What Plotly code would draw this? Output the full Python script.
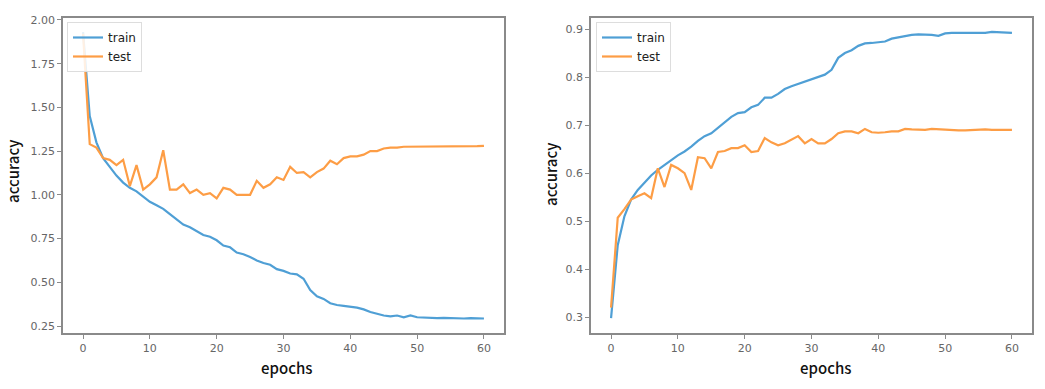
import plotly.graph_objects as go

W, H = 1045, 389

epochs = list(range(61))

left_train = [1.93, 1.45, 1.30, 1.21, 1.16, 1.11, 1.07, 1.04, 1.02, 0.99,
              0.96, 0.94, 0.92, 0.89, 0.86, 0.83, 0.815, 0.79, 0.77, 0.76,
              0.74, 0.71, 0.70, 0.67, 0.66, 0.645, 0.625, 0.61, 0.60, 0.575,
              0.565, 0.55, 0.545, 0.52, 0.455, 0.42, 0.405, 0.38, 0.37, 0.365,
              0.36, 0.355, 0.345, 0.33, 0.32, 0.31, 0.305, 0.31, 0.30, 0.31,
              0.30, 0.297, 0.295, 0.295, 0.297, 0.295, 0.297, 0.293, 0.295, 0.293,
              0.293]
left_test = [1.92, 1.29, 1.27, 1.21, 1.20, 1.17, 1.20, 1.05, 1.17, 1.03,
             1.06, 1.10, 1.255, 1.03, 1.03, 1.06, 1.01, 1.03, 1.00, 1.01,
             0.98, 1.04, 1.03, 1.00, 1.00, 1.00, 1.08, 1.04, 1.06, 1.10,
             1.085, 1.16, 1.125, 1.13, 1.10, 1.13, 1.15, 1.195, 1.175, 1.21,
             1.22, 1.22, 1.23, 1.25, 1.25, 1.265, 1.27, 1.27, 1.275, 1.275,
             1.275, 1.275, 1.275, 1.275, 1.278, 1.278, 1.278, 1.278, 1.276, 1.278,
             1.28]

right_train = [0.298, 0.45, 0.51, 0.545, 0.565, 0.58, 0.595, 0.607, 0.617, 0.627,
               0.637, 0.645, 0.655, 0.667, 0.677, 0.683, 0.695, 0.705, 0.717, 0.725,
               0.727, 0.737, 0.742, 0.757, 0.757, 0.765, 0.775, 0.781, 0.786, 0.791,
               0.795, 0.80, 0.805, 0.815, 0.84, 0.85, 0.856, 0.865, 0.87, 0.871,
               0.872, 0.874, 0.88, 0.883, 0.886, 0.888, 0.889, 0.889, 0.888, 0.886,
               0.891, 0.892, 0.892, 0.893, 0.892, 0.893, 0.892, 0.894, 0.893, 0.893,
               0.892]
right_test = [0.32, 0.507, 0.525, 0.545, 0.552, 0.558, 0.548, 0.61, 0.571, 0.617,
              0.61, 0.60, 0.565, 0.633, 0.631, 0.61, 0.644, 0.646, 0.652, 0.652,
              0.658, 0.644, 0.646, 0.673, 0.664, 0.658, 0.662, 0.670, 0.677, 0.662,
              0.671, 0.662, 0.662, 0.671, 0.683, 0.687, 0.687, 0.683, 0.692, 0.685,
              0.684, 0.685, 0.687, 0.687, 0.692, 0.691, 0.691, 0.690, 0.692, 0.691,
              0.690, 0.690, 0.689, 0.689, 0.690, 0.690, 0.691, 0.690, 0.690, 0.690,
              0.690]

x_ticks = [0, 10, 20, 30, 40, 50, 60]
left_yticks = [0.25, 0.50, 0.75, 1.00, 1.25, 1.50, 1.75, 2.00]
right_yticks = [0.3, 0.4, 0.5, 0.6, 0.7, 0.8, 0.9]

BLUE = "#4f9fd5"
ORANGE = "#fd9d45"
AX = "#8a8a8a"
TICKFONT = dict(family="DejaVu Sans", size=11, color="#666666")

fig = go.Figure()
fig.add_trace(go.Scatter(x=epochs, y=left_train, mode="lines", name="train",
                         line=dict(color=BLUE, width=2.2), xaxis="x", yaxis="y",
                         legend="legend"))
fig.add_trace(go.Scatter(x=epochs, y=left_test, mode="lines", name="test",
                         line=dict(color=ORANGE, width=2.2), xaxis="x", yaxis="y",
                         legend="legend"))
fig.add_trace(go.Scatter(x=epochs, y=right_train, mode="lines", name="train",
                         line=dict(color=BLUE, width=2.2), xaxis="x2", yaxis="y2",
                         legend="legend2"))
fig.add_trace(go.Scatter(x=epochs, y=right_test, mode="lines", name="test",
                         line=dict(color=ORANGE, width=2.2), xaxis="x2", yaxis="y2",
                         legend="legend2"))

ydom = [1 - 333 / H, 1 - 18 / H]


def xax(dom, anchor):
    return dict(domain=dom, anchor=anchor, range=[-3, 63], tickvals=x_ticks,
                showgrid=False, zeroline=False, showline=True, mirror=True,
                linecolor=AX, linewidth=1.5, ticks="outside", ticklen=4,
                tickcolor=AX, tickfont=TICKFONT, automargin=False)


def yax(dom, anchor, rng, vals, fmt):
    return dict(domain=dom, anchor=anchor, range=rng, tickvals=vals,
                tickformat=fmt, showgrid=False, zeroline=False, showline=True,
                mirror=True, linecolor=AX, linewidth=1.5, ticks="outside",
                ticklen=4, tickcolor=AX, tickfont=TICKFONT, automargin=False)


leg_common = dict(xanchor="left", yanchor="top", bgcolor="rgba(255,255,255,0.85)",
                  bordercolor="#dddddd", borderwidth=1,
                  font=dict(family="DejaVu Sans", size=12, color="#222222"),
                  itemwidth=30, tracegroupgap=0)

fig.update_layout(
    width=W, height=H,
    margin=dict(l=0, r=0, t=0, b=0, autoexpand=False),
    paper_bgcolor="white", plot_bgcolor="white",
    xaxis=xax([63 / W, 504 / W], "y"),
    yaxis=yax(ydom, "x", [0.21, 2.011], left_yticks, ".2f"),
    xaxis2=xax([591 / W, 1032 / W], "y2"),
    yaxis2=yax(ydom, "x2", [0.267, 0.923], right_yticks, ".1f"),
    legend=dict(x=67 / W, y=1 - 22 / H, **leg_common),
    legend2=dict(x=596 / W, y=1 - 22 / H, **leg_common),
    showlegend=True,
)

LABEL_FONT = dict(family="Noto Sans CJK SC", size=15, color="#111111", weight=500)
annots = [
    dict(text="accuracy", x=13 / W, y=1 - 172 / H, textangle=-90),
    dict(text="epochs", x=286 / W, y=1 - 367 / H, textangle=0),
    dict(text="accuracy", x=550 / W, y=1 - 175 / H, textangle=-90),
    dict(text="epochs", x=825 / W, y=1 - 367 / H, textangle=0),
]
for a in annots:
    fig.add_annotation(xref="paper", yref="paper", showarrow=False,
                       xanchor="center", yanchor="middle", font=LABEL_FONT, **a)

fig.write_html("out.html", config={"displayModeBar": False},
               post_script="document.body.style.margin='0';document.body.style.padding='0';")
